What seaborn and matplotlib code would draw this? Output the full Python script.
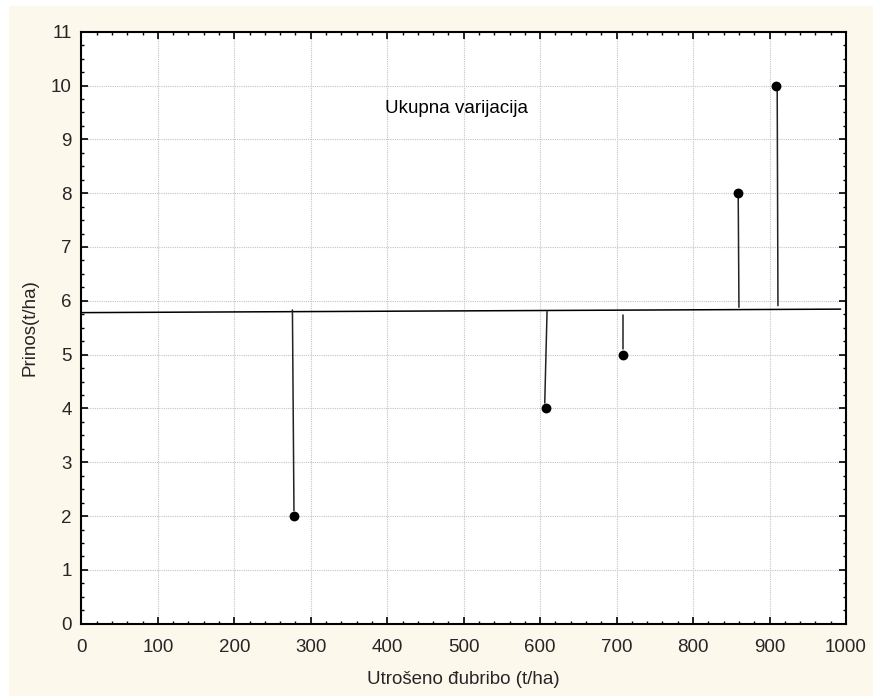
import matplotlib
matplotlib.use("Agg")
import matplotlib.pyplot as plt
import seaborn as sns
import pandas as pd
from matplotlib.patches import Rectangle
from matplotlib.ticker import MultipleLocator

# Data
x_vals = [278, 607, 708, 859, 908]
y_vals = [2, 4, 5, 8, 10]
# residual segments (x at top, x at bottom, top y, bottom y)
seg_x_top = [276, 609, 708, 860, 911]
seg_x_bot = [278, 606, 708, 859, 910]
seg_top = [5.83, 5.80, 5.74, 5.88, 5.91]
seg_bot = [2.1, 4.1, 5.1, 8.0, 10.0]
# mean line
mean_x = [0, 993]
mean_y = [5.78, 5.845]

x_ticks = [0, 100, 200, 300, 400, 500, 600, 700, 800, 900, 1000]
y_ticks = list(range(0, 12))
x_label = "Utrošeno đubribo (t/ha)"
y_label = "Prinos(t/ha)"
annot = "Ukupna varijacija"

sns.set_style("white")
plt.rcParams['font.family'] = ['Liberation Sans', 'DejaVu Sans']

fig = plt.figure(figsize=(8.73, 6.96), dpi=100)
fig.patch.set_facecolor("white")
fig.patches.append(Rectangle((9 / 873, 0), 1 - 9 / 873, 1 - 6 / 696,
                             transform=fig.transFigure, facecolor="#FDF8EC",
                             edgecolor="none", zorder=-10))
L, R, T, B = 81.4, 846, 31.7, 623.7
ax = fig.add_axes([L / 873, 1 - B / 696, (R - L) / 873, (B - T) / 696])
ax.set_facecolor("white")

df_mean = pd.DataFrame({"x": mean_x, "y": mean_y})
sns.lineplot(data=df_mean, x="x", y="y", ax=ax, color="black", linewidth=1.1, zorder=3)

for xt, xb, yt, yb in zip(seg_x_top, seg_x_bot, seg_top, seg_bot):
    ax.plot([xt, xb], [yt, yb], color="#222222", linewidth=1.1, zorder=3)

df_pts = pd.DataFrame({"x": x_vals, "y": y_vals})
sns.scatterplot(data=df_pts, x="x", y="y", ax=ax, color="black", s=50,
                edgecolor="black", linewidth=0, zorder=4)

ax.text(491, 9.58, annot, ha="center", va="center", fontsize=13.5, color="black")

ax.set_xlim(0, 1000)
ax.set_ylim(0, 11)
ax.set_xticks(x_ticks)
ax.set_yticks(y_ticks)
ax.xaxis.set_minor_locator(MultipleLocator(20))
ax.yaxis.set_minor_locator(MultipleLocator(0.25))
ax.tick_params(which="both", direction="in", top=True, right=True, bottom=True, left=True,
               color="black")
ax.tick_params(which="major", length=5, width=1.2, labelsize=13.5)
ax.tick_params(axis="x", which="major", pad=11)
ax.tick_params(axis="y", which="major", pad=7)
ax.tick_params(which="minor", length=2.5, width=1.0)
ax.grid(True, which="major", color="#c4c4c4", linestyle=(0, (1, 1)), linewidth=0.8)
ax.set_axisbelow(True)
for s in ax.spines.values():
    s.set_visible(True)
    s.set_color("black")
    s.set_linewidth(1.5)

ax.set_xlabel(x_label, fontsize=13.5)
ax.set_ylabel(y_label, fontsize=13.5)
ax.xaxis.label.set_va("center")
ax.yaxis.label.set_va("center")
ax.xaxis.set_label_coords(((367 + 560) / 2 - L) / (R - L), (B - 679) / (B - T))
ax.yaxis.set_label_coords((29.5 - L) / (R - L), 0.5)

fig.savefig("out.png", dpi=100, facecolor=fig.get_facecolor())
